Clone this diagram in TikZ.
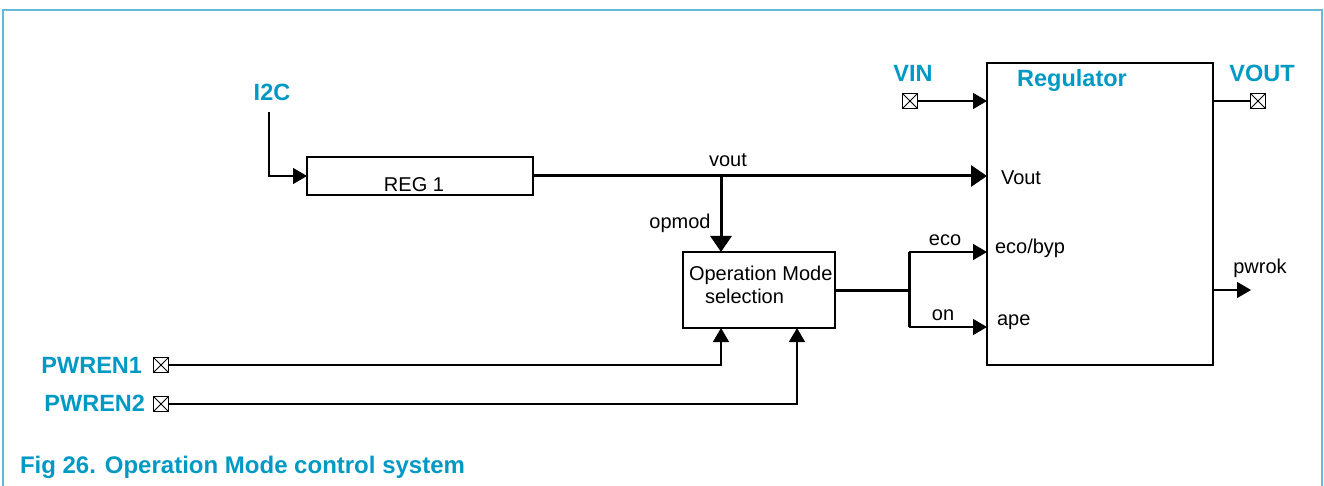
\documentclass[tikz,border=0pt]{standalone}
\usepackage{fontspec}
\setmainfont{Liberation Sans}
\usetikzlibrary{arrows.meta,calc}
\definecolor{nxpblue}{RGB}{0,153,196}
\definecolor{framecol}{RGB}{100,185,215}
\tikzset{
  x=1pt, y=-1pt,
  every node/.style={inner sep=0pt, outer sep=0pt},
  blocklbl/.style={font=\fontsize{20}{24}\selectfont},
  sig/.style={font=\fontsize{20}{24}\selectfont, text=black},
  pinlbl/.style={font=\fontsize{23.5}{27}\selectfont\bfseries, text=nxpblue},
  block/.style={draw, line width=1.4pt, rectangle},
  wire/.style={line width=1.3pt},
  bus/.style={line width=3pt},
  tip/.style={-{Triangle[length=14pt,width=16pt]}},
  bigtip/.style={-{Triangle[length=16pt,width=21pt]}},
  padbox/.style={draw, line width=1.2pt, minimum width=15pt, minimum height=15pt,
    path picture={\draw[line width=0.9pt] (path picture bounding box.north west) -- (path picture bounding box.south east)
      (path picture bounding box.north east) -- (path picture bounding box.south west);}},
}
\begin{document}
\begin{tikzpicture}
\useasboundingbox (0,0) rectangle (1324,486);
% frame
\draw[framecol, line width=2pt] (3,486) -- (3,10) -- (1322,10) -- (1322,486);

% blocks
\node[block, minimum width=226pt, minimum height=38pt] (reg1) at (420,176) {};
\node[blocklbl] at (414,185) {REG 1};
\node[block, minimum width=152pt, minimum height=76pt] (oms) at (759,290) {};
\node[blocklbl, anchor=west] at (689,275) {Operation Mode};
\node[blocklbl, anchor=west] at (705,296) {selection};
\node[block, minimum width=226pt, minimum height=302pt] (reg) at (1100,214) {};
\node[pinlbl] at (1072,80) {Regulator};
\node[sig, anchor=west] at (1001,178) {Vout};
\node[sig, anchor=west] at (995,248) {eco/byp};
\node[sig, anchor=west] at (997,322) {ape};

% pins
\node[pinlbl] at (272,92) {I2C};
\coordinate (i2c) at (269,112);
\node[pinlbl] at (913,73) {VIN};
\node[padbox] (vin) at (910,101) {};
\node[pinlbl] at (1262,73) {VOUT};
\node[padbox] (vout) at (1258,101) {};
\node[pinlbl, anchor=east] (p1l) at (142,365) {PWREN1};
\node[padbox] (p1) at (161,365) {};
\node[pinlbl, anchor=east] (p2l) at (145,403) {PWREN2};
\node[padbox] (p2) at (161,404) {};

% internal points
\coordinate (tap) at (721,176);
\coordinate (split) at (909,290);
\coordinate (ecoY) at (909,252);
\coordinate (onY) at (909,327);
\coordinate (pwrok) at (1251,290);
\coordinate (in1) at (721,0);
\coordinate (in2) at (797,0);

% connections
\draw[wire, tip] (i2c) |- (reg1.west);
\draw[bus, bigtip] (reg1.east) -- (reg1.east -| reg.west);
\node[sig] at (728,160) {vout};
\draw[bus, bigtip] (tap) -- (tap |- oms.north);
\node[sig] at (680,223) {opmod};
\draw[bus] (oms.east |- split) -- (split);
\draw[bus] (ecoY) -- (onY);
\draw[wire, tip] (ecoY) -- (ecoY -| reg.west);
\node[sig] at (945,240) {eco};
\draw[wire, tip] (onY) -- (onY -| reg.west);
\node[sig] at (943,315) {on};
\draw[wire, tip] (vin.east) -- (vin.east -| reg.west);
\draw[wire] (vout.west -| reg.east) -- (vout.west);
\draw[wire, tip] (pwrok -| reg.east) -- (pwrok);
\node[sig] at (1260,268) {pwrok};
\draw[wire, tip] (p1.east) -| (in1 |- oms.south);
\draw[wire, tip] (p2.east) -| (in2 |- oms.south);

% caption
\node[pinlbl, anchor=base west, font=\fontsize{24}{28}\selectfont\bfseries] at (20,473) {Fig 26. Operation Mode control system};
\end{tikzpicture}
\end{document}
